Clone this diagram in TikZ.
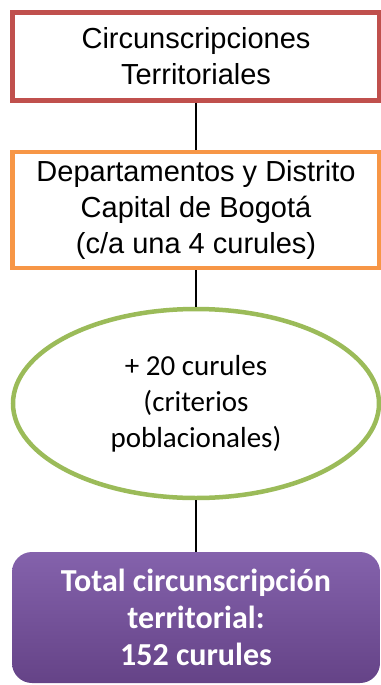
\documentclass[tikz,border=0pt]{standalone}
\usepackage{fontspec}
\setmainfont{Liberation Sans}
\newfontfamily\cbr{Carlito}
\usetikzlibrary{shapes.geometric}
\definecolor{rojo}{HTML}{C0504D}
\definecolor{naranja}{HTML}{F79646}
\definecolor{verde}{HTML}{9BBB59}
\definecolor{moradoa}{HTML}{8462AC}
\definecolor{moradob}{HTML}{654387}
\begin{document}
\begin{tikzpicture}[x=1pt,y=-1pt]
\tikzstyle{bx} = [rectangle,line width=4.5pt,fill=white,minimum width=367pt,align=center,font=\fontsize{29}{36}\selectfont] %box
\tikzstyle{el} = [ellipse,draw=verde,line width=4.5pt,fill=white,minimum width=366pt,minimum height=189pt,inner sep=0pt,align=center,font=\cbr\fontsize{29}{36}\selectfont] %ellipse
\tikzstyle{tb} = [rectangle,rounded corners=20pt,top color=moradoa,bottom color=moradob,text=white,minimum width=368pt,minimum height=131pt,align=center,font=\cbr\bfseries\fontsize{32}{37}\selectfont] %total
\tikzstyle{ln} = [-,line width=1.8pt] %line
\useasboundingbox (0,0) rectangle (380,685);
\node[bx,draw=rojo,minimum height=88pt](ct)at(196,56.5){Circunscripciones\\Territoriales};
\node[bx,draw=naranja,minimum height=116pt](dp)at(196,210){Departamentos y Distrito\\Capital de Bogotá\\(c/a una 4 curules)};
\node[el](cp)at(196,403.5){+ 20 curules\\(criterios\\poblacionales)};
\node[tb](tt)at(196,617.5){Total circunscripción\\territorial:\\152 curules};
\path(ct) edge [ln] (dp);
\path(dp) edge [ln] (cp);
\path(cp) edge [ln] (tt);
\end{tikzpicture}
\end{document}
